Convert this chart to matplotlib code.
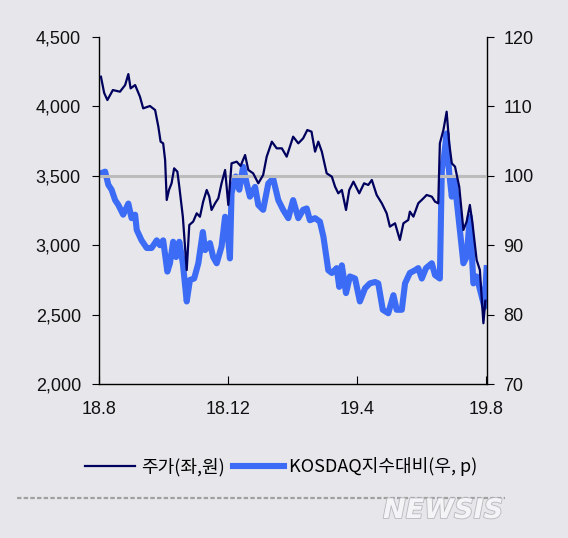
import matplotlib.pyplot as plt
import matplotlib.patheffects as pe
from matplotlib.ticker import FuncFormatter, MultipleLocator

# months since 2018-08 (0 = 18.8, 12 = 19.8)
price_month = [0.06, 0.16, 0.26, 0.43, 0.65, 0.81, 0.91, 0.98, 1.12, 1.27, 1.37, 1.58, 1.74,
               1.84, 1.91, 1.99, 2.05, 2.10, 2.17, 2.25, 2.33, 2.43, 2.49, 2.60, 2.72, 2.80,
               2.92, 3.03, 3.13, 3.23, 3.34, 3.42, 3.49, 3.60, 3.70, 3.80, 3.91, 4.01, 4.11,
               4.27, 4.39, 4.53, 4.63, 4.78, 4.94, 5.09, 5.20, 5.36, 5.51, 5.67, 5.82, 6.02,
               6.18, 6.33, 6.46, 6.59, 6.70, 6.80, 6.91, 7.06, 7.22, 7.32, 7.42, 7.53, 7.66,
               7.76, 7.89, 8.07, 8.22, 8.35, 8.46, 8.61, 8.77, 8.92, 9.02, 9.18, 9.33, 9.44,
               9.59, 9.64, 9.75, 9.90, 10.06, 10.16, 10.32, 10.42, 10.52, 10.57, 10.68, 10.78,
               10.86, 10.94, 11.04, 11.17, 11.30, 11.40, 11.50, 11.58, 11.71, 11.81, 11.92, 11.98]
price = [4214, 4097, 4046, 4118, 4106, 4154, 4233, 4130, 4154, 4070, 3986, 4003, 3974,
         3854, 3746, 3734, 3614, 3326, 3398, 3446, 3554, 3530, 3422, 3205, 2821, 3146,
         3170, 3230, 3205, 3314, 3398, 3350, 3254, 3302, 3338, 3446, 3542, 3290, 3590,
         3602, 3571, 3650, 3542, 3518, 3446, 3506, 3638, 3746, 3698, 3698, 3638, 3782,
         3734, 3770, 3830, 3818, 3674, 3746, 3674, 3518, 3494, 3422, 3374, 3398, 3254,
         3398, 3458, 3374, 3446, 3434, 3470, 3362, 3302, 3230, 3134, 3158, 3038, 3158,
         3182, 3242, 3206, 3302, 3338, 3362, 3350, 3314, 3302, 3734, 3830, 3962,
         3734, 3590, 3566, 3422, 3110, 3170, 3290, 3160, 2894, 2822, 2438, 2600]

rel_month = [0.08, 0.19, 0.29, 0.39, 0.50, 0.60, 0.75, 0.91, 1.01, 1.12, 1.17, 1.32, 1.48,
             1.63, 1.79, 1.89, 1.99, 2.12, 2.20, 2.30, 2.39, 2.49, 2.60, 2.72, 2.82, 2.95,
             3.08, 3.22, 3.29, 3.44, 3.54, 3.65, 3.80, 3.91, 3.98, 4.06, 4.11, 4.24, 4.35,
             4.47, 4.58, 4.68, 4.84, 4.94, 5.09, 5.25, 5.40, 5.56, 5.71, 5.87, 6.02, 6.18,
             6.33, 6.44, 6.54, 6.70, 6.85, 6.96, 7.11, 7.22, 7.37, 7.45, 7.53, 7.66, 7.78,
             7.94, 8.09, 8.25, 8.40, 8.56, 8.66, 8.80, 8.97, 9.13, 9.23, 9.39, 9.49, 9.64,
             9.80, 9.90, 10.01, 10.14, 10.32, 10.42, 10.57, 10.63, 10.70, 10.78, 10.86,
             10.94, 11.02, 11.09, 11.19, 11.30, 11.40, 11.50, 11.61, 11.71, 11.87, 11.95, 12.02]
rel_kosdaq = [100.4, 100.6, 98.7, 98.0, 96.5, 95.8, 94.4, 96.0, 93.9, 94.4, 92.2, 90.7, 89.6,
              89.6, 90.7, 90.0, 90.7, 86.2, 87.4, 90.5, 88.3, 90.5, 87.4, 81.9, 85.0, 85.2,
              87.4, 91.9, 89.3, 90.3, 88.3, 87.4, 89.8, 94.1, 92.2, 88.1, 97.5, 99.9, 98.0,
              101.3, 98.9, 97.0, 98.4, 95.8, 95.1, 98.9, 99.6, 96.5, 95.1, 93.9, 96.5, 93.9,
              95.1, 95.3, 93.6, 93.9, 93.4, 91.2, 86.4, 86.0, 86.7, 84.0, 87.1, 83.1, 85.5,
              85.2, 81.9, 83.8, 84.5, 84.7, 84.5, 80.7, 80.2, 82.8, 80.7, 80.7, 84.5, 86.0,
              86.4, 86.7, 85.2, 86.7, 87.4, 85.7, 85.2, 100.8, 102.8, 106.1, 100.4,
              97.0, 99.4, 96.5, 92.2, 87.4, 88.3, 94.1, 84.5, 85.5, 82.6, 81.1, 86.7]

tick_months = [0, 4, 8, 12]
tick_labels = ['18.8', '18.12', '19.4', '19.8']

bg = '#e7e7eb'
navy = '#00005e'
blue = '#3c6cf5'

plt.rcParams['font.family'] = ['Liberation Sans', 'Noto Sans CJK KR', 'DejaVu Sans']

fig = plt.figure(figsize=(5.68, 5.38), dpi=100, facecolor=bg)
ax = fig.add_axes([0.1743, 0.2862, 0.683, 0.645])
ax.set_facecolor(bg)
ax2 = ax.twinx()

ax.axhline(3500, color='#bcbcbc', lw=2.2, zorder=1)
l1, = ax.plot(price_month, price, color=navy, lw=1.6, zorder=3, label='주가(좌,원)')
l2, = ax2.plot(rel_month, rel_kosdaq, color=blue, lw=4.4, zorder=2,
               solid_joinstyle='round', label='KOSDAQ지수대비(우, p)')
ax.set_zorder(ax2.get_zorder() + 1)
ax.patch.set_visible(False)
ax2.patch.set_facecolor(bg)

ax.set_xlim(0, 12.03)
ax.set_ylim(2000, 4500)
ax2.set_ylim(70, 120)
ax.yaxis.set_major_locator(MultipleLocator(500))
ax.yaxis.set_major_formatter(FuncFormatter(lambda v, p: f'{v:,.0f}'))
ax2.yaxis.set_major_locator(MultipleLocator(10))
ax.set_xticks(tick_months)
ax.set_xticklabels(tick_labels)

for a in (ax, ax2):
    a.spines['top'].set_visible(False)
    for s in a.spines.values():
        s.set_linewidth(1.0)
ax.spines['right'].set_visible(False)
ax2.spines['left'].set_visible(False)
ax2.spines['bottom'].set_visible(False)

ax.tick_params(axis='y', direction='out', length=5, labelsize=13, pad=8, labelcolor='#111111')
ax.tick_params(axis='x', direction='in', length=6, labelsize=13, pad=12, labelcolor='#111111')
ax2.tick_params(axis='y', direction='out', length=5, labelsize=13, pad=7, labelcolor='#111111')

fig.legend(handles=[l1, l2], loc='center', bbox_to_anchor=(0.495, 0.132), ncol=2,
           frameon=False, handlelength=2.8, handletextpad=0.3, columnspacing=0.5,
           prop={'family': ['Noto Sans CJK KR', 'DejaVu Sans'], 'size': 13})

fig.add_artist(plt.Line2D([17 / 568, 505 / 568], [1 - 498 / 538] * 2, color='#a0a0a0',
                          lw=1.6, ls=(0, (2, 1)), transform=fig.transFigure))
fig.text(0.886, 0.037, 'NEWSIS', ha='right', va='baseline', fontsize=19.5, fontweight='bold',
         style='italic', family='DejaVu Sans', color='#f4f4f6',
         path_effects=[pe.withStroke(linewidth=1.2, foreground='#b8b8bc')])

fig.savefig('out.png', dpi=100, facecolor=bg)
